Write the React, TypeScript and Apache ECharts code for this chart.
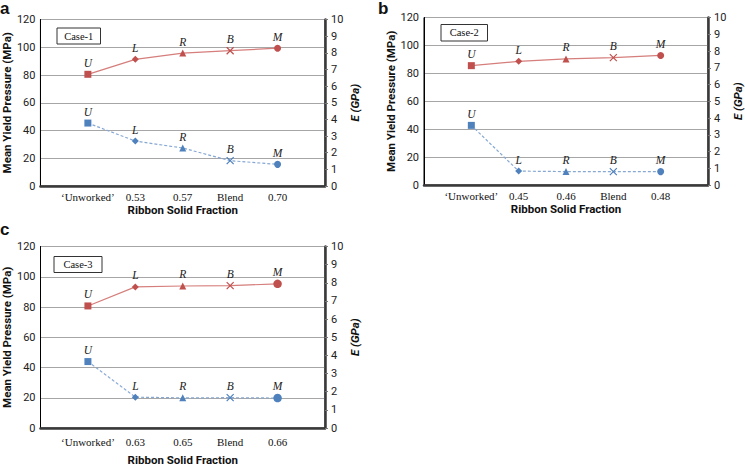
import React, { useEffect, useRef } from "react";
import * as echarts from "echarts";

const panelLetters = ["a", "b", "c"];
const caseNames = ["Case-1", "Case-2", "Case-3"];
const categoriesA = ["‘Unworked’", "0.53", "0.57", "Blend", "0.70"];
const categoriesB = ["‘Unworked’", "0.45", "0.46", "Blend", "0.48"];
const categoriesC = ["‘Unworked’", "0.63", "0.65", "Blend", "0.66"];
const pressureA = [80.5, 91.3, 95.8, 97.5, 99.3];
const modulusA = [3.78, 2.7, 2.28, 1.52, 1.3];
const pressureB = [85.5, 88.6, 90.3, 91.2, 92.8];
const modulusB = [3.56, 0.83, 0.8, 0.8, 0.8];
const pressureC = [80.7, 93.3, 93.9, 94.1, 95.3];
const modulusC = [3.66, 1.7, 1.66, 1.67, 1.65];
const pointLetters = ["U", "L", "R", "B", "M"];
const xAxisTitle = "Ribbon Solid Fraction";
const leftAxisTitle = "Mean Yield Pressure (MPa)";
const rightAxisTitle = "E (GPa)";

const RED = "#C0504D";
const RED_LINE = "#D57E7B";
const BLUE = "#4F81BD";
const BLUE_LINE = "#86A8D3";
const SANS = "Roboto, 'Noto Sans', sans-serif";
const SERIF = "'Liberation Serif', 'DejaVu Serif', serif";
const CROSS = "path://M0,0L10,10M10,0L0,10";
const symbols = ["rect", "diamond", "triangle", CROSS, "circle"];
const symbolSizes = [7, 7, 7, 7, 7];

const grids = [
  { left: 40, top: 19.5, width: 285, height: 166.5, nameGapX: 18, labelMarginX: 5, leftGap: 26, rightGap: 24 },
  { left: 424, top: 17.5, width: 288, height: 167.5, nameGapX: 18, labelMarginX: 5, leftGap: 21, rightGap: 24 },
  { left: 40.5, top: 246.5, width: 284.5, height: 184.5, nameGapX: 26, labelMarginX: 8, leftGap: 26, rightGap: 24 },
];
const caseBoxes = [
  { x: 56.5, y: 27.5, w: 43.5, h: 16 },
  { x: 440.5, y: 24, w: 46.5, h: 16.5 },
  { x: 53.5, y: 256, w: 48, h: 16 },
];
const letterPos = [
  { x: 0, y: 0 },
  { x: 378, y: 0 },
  { x: 0, y: 221 },
];

function makeData(values: number[], color: string, big: boolean) {
  return values.map((v, i) => {
    const isCross = symbols[i] === CROSS;
    return {
      value: [i + 1, v],
      symbol: symbols[i],
      symbolSize: big && symbols[i] === "circle" ? 8.5 : symbolSizes[i],
      itemStyle: isCross
        ? { color: "rgba(0,0,0,0)", borderColor: color, borderWidth: 1.2 }
        : { color, borderWidth: 0 },
      label: {
        show: true,
        formatter: pointLetters[i],
      },
    };
  });
}

export default function App() {
  const ref = useRef<HTMLDivElement>(null);
  useEffect(() => {
    if (!ref.current) return;
    const chart = echarts.init(ref.current, undefined, { renderer: "svg" });
    const cats = [categoriesA, categoriesB, categoriesC];
    const pressures = [pressureA, pressureB, pressureC];
    const moduli = [modulusA, modulusB, modulusC];

    const grid: any[] = [];
    const xAxis: any[] = [];
    const yAxis: any[] = [];
    const series: any[] = [];
    const graphic: any[] = [];

    grids.forEach((g, k) => {
      grid.push({
        left: g.left,
        top: g.top,
        width: g.width,
        height: g.height,
        show: true,
        borderColor: "#000",
        borderWidth: 1,
        backgroundColor: "#fff",
      });
      xAxis.push({
        type: "category",
        gridIndex: k,
        data: ["", ...cats[k], ""],
        boundaryGap: false,
        axisTick: { show: false },
        axisLine: { lineStyle: { color: "#3a3a3a", width: 2.5 } },
        axisLabel: {
          interval: 0,
          margin: g.labelMarginX,
          fontFamily: SERIF,
          fontSize: 11,
          color: "#111",
        },
        splitLine: { show: false },
        name: xAxisTitle,
        nameLocation: "middle",
        nameGap: g.nameGapX,
        nameTextStyle: { fontFamily: SANS, fontWeight: "bold", fontSize: 11.5, color: "#111" },
      });
      yAxis.push({
        type: "value",
        gridIndex: k,
        position: "left",
        min: 0,
        max: 120,
        interval: 20,
        axisLine: { show: true, lineStyle: { color: "#000", width: 1 } },
        axisTick: { show: false },
        axisLabel: { margin: 5, fontFamily: SANS, fontSize: 11, color: "#222" },
        splitLine: { show: true, lineStyle: { color: "#a6a6a6", width: 1 } },
        name: leftAxisTitle,
        nameLocation: "middle",
        nameRotate: 90,
        nameGap: g.leftGap,
        nameTextStyle: { fontFamily: SANS, fontWeight: "bold", fontSize: 11.5, color: "#111" },
      });
      yAxis.push({
        type: "value",
        gridIndex: k,
        position: "right",
        min: 0,
        max: 10,
        interval: 1,
        axisLine: { show: true, lineStyle: { color: "#3a3a3a", width: 2.5 } },
        axisTick: { show: true, length: 3, lineStyle: { color: "#777", width: 1 } },
        axisLabel: { margin: 6, fontFamily: SANS, fontSize: 11, color: "#222" },
        splitLine: { show: false },
        name: rightAxisTitle,
        nameLocation: "middle",
        nameRotate: 90,
        nameGap: g.rightGap,
        nameTextStyle: { fontFamily: SANS, fontWeight: "bold", fontStyle: "italic", fontSize: 11.5, color: "#111" },
      });
      const labelStyle = {
        position: "top",
        distance: 2,
        fontFamily: SERIF,
        fontStyle: "italic",
        fontSize: 11.5,
        color: "#222",
      };
      series.push({
        type: "line",
        xAxisIndex: k,
        yAxisIndex: 2 * k,
        data: makeData(pressures[k], RED, k === 2),
        lineStyle: { color: RED_LINE, width: 1.2 },
        label: labelStyle,
        z: 3,
      });
      series.push({
        type: "line",
        xAxisIndex: k,
        yAxisIndex: 2 * k + 1,
        data: makeData(moduli[k], BLUE, k === 2),
        lineStyle: { color: BLUE_LINE, width: 1.2, type: [3, 2] },
        label: labelStyle,
        z: 3,
      });
      const b = caseBoxes[k];
      graphic.push({
        type: "group",
        left: b.x,
        top: b.y,
        children: [
          {
            type: "rect",
            shape: { x: 0, y: 0, width: b.w, height: b.h },
            style: { fill: "#fff", stroke: "#333", lineWidth: 1 },
          },
          {
            type: "text",
            x: b.w / 2,
            y: b.h / 2,
            style: {
              text: caseNames[k],
              fontFamily: SERIF,
              fontSize: 10.5,
              fill: "#111",
              align: "center",
              verticalAlign: "middle",
            },
          },
        ],
        z: 10,
      });
      graphic.push({
        type: "text",
        left: letterPos[k].x,
        top: letterPos[k].y,
        style: {
          text: panelLetters[k],
          fontFamily: "'Liberation Sans', Arial, sans-serif",
          fontWeight: "bold",
          fontSize: 17,
          fill: "#111",
        },
      });
    });

    chart.setOption({
      animation: false,
      backgroundColor: "#fff",
      grid,
      xAxis,
      yAxis,
      series,
      graphic,
    });
    return () => chart.dispose();
  }, []);
  return (
    <div
      ref={ref}
      style={{ position: "absolute", left: 0, top: 0, width: 745, height: 467 }}
    />
  );
}
